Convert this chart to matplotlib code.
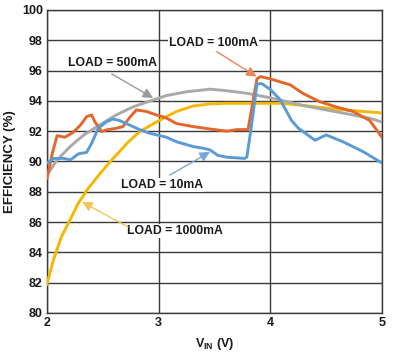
import matplotlib
matplotlib.use("Agg")
import matplotlib.pyplot as plt

# Efficiency vs input voltage
vin_10ma = [2.0, 2.06, 2.15, 2.21, 2.28, 2.355, 2.40, 2.46, 2.53, 2.59, 2.65, 2.74, 2.83, 2.92,
            3.07, 3.16, 3.31, 3.40, 3.46, 3.53, 3.61, 3.77, 3.79, 3.83, 3.88, 3.92, 4.0, 4.09,
            4.19, 4.25, 4.40, 4.50, 4.65, 4.83, 5.0]
eff_10ma = [89.9, 90.2, 90.2, 90.1, 90.5, 90.6, 91.2, 92.2, 92.6, 92.8, 92.7, 92.4, 92.1, 91.86,
            91.6, 91.3, 90.98, 90.87, 90.76, 90.4, 90.28, 90.2, 90.3, 92.3, 95.1, 95.15, 94.75, 94.06,
            92.7, 92.2, 91.4, 91.75, 91.3, 90.65, 89.9]

vin_100ma = [2.0, 2.05, 2.09, 2.16, 2.23, 2.30, 2.355, 2.40, 2.43, 2.49, 2.53, 2.62, 2.68, 2.74,
             2.80, 2.89, 2.98, 3.06, 3.16, 3.31, 3.46, 3.61, 3.70, 3.80, 3.88, 3.91, 4.0, 4.18,
             4.29, 4.44, 4.59, 4.74, 4.89, 5.0]
eff_100ma = [88.9, 90.6, 91.7, 91.6, 91.9, 92.4, 92.96, 93.07, 92.6, 91.97, 92.08, 92.19, 92.3, 92.9,
             93.4, 93.3, 93.07, 92.9, 92.5, 92.3, 92.14, 92.0, 92.1, 92.1, 95.45, 95.6, 95.45, 95.05,
             94.5, 93.95, 93.6, 93.3, 92.7, 91.6]

vin_500ma = [2.0, 2.09, 2.21, 2.33, 2.47, 2.62, 2.77, 2.95, 3.07, 3.25, 3.46, 3.61, 3.79, 4.0,
             4.15, 4.29, 4.5, 4.74, 4.89, 5.0]
eff_500ma = [89.1, 90.1, 91.0, 91.75, 92.4, 93.07, 93.6, 94.06, 94.35, 94.6, 94.77, 94.67, 94.5, 94.2,
             93.95, 93.7, 93.4, 93.07, 92.85, 92.6]

vin_1000ma = [2.0, 2.057, 2.13, 2.206, 2.28, 2.37, 2.475, 2.58, 2.73, 2.83, 2.98, 3.08, 3.16, 3.31,
              3.46, 3.61, 3.91, 4.11, 4.29, 4.59, 5.0]
eff_1000ma = [81.9, 83.5, 85.04, 86.14, 87.24, 88.23, 89.2, 90.1, 91.3, 91.97, 92.6, 93.0, 93.3, 93.66,
              93.8, 93.84, 93.84, 93.84, 93.7, 93.45, 93.2]

x_ticks = [2, 3, 4, 5]
y_ticks = list(range(80, 101, 2))

C_BLUE = '#5b9bd5'
C_ORANGE = '#e2672c'
C_GRAY = '#a9a9a9'
C_YELLOW = '#f5b800'

plt.rcParams['font.family'] = ['Liberation Sans', 'DejaVu Sans']

fig = plt.figure(figsize=(4.0, 3.56), dpi=100)
ax = fig.add_axes([0.1175, 0.121, 0.8375, 0.851])

lw = 2.1
ax.plot(vin_1000ma, eff_1000ma, color=C_YELLOW, lw=lw, zorder=3)
ax.plot(vin_500ma, eff_500ma, color=C_GRAY, lw=lw, zorder=3)
ax.plot(vin_100ma, eff_100ma, color=C_ORANGE, lw=lw, zorder=3)
ax.plot(vin_10ma, eff_10ma, color=C_BLUE, lw=lw, zorder=3)

ax.set_xlim(2, 5)
ax.set_ylim(80, 100)
ax.set_xticks(x_ticks)
ax.set_yticks(y_ticks)
ax.tick_params(length=0, pad=3, labelsize=9, colors='#1a1a1a')
for lab in ax.get_xticklabels() + ax.get_yticklabels():
    lab.set_fontweight('bold')
ax.grid(True, color='#3a3a3a', lw=1.0)
ax.set_axisbelow(True)
for sp in ax.spines.values():
    sp.set_color('#3a3a3a')
    sp.set_linewidth(1.0)

ax.set_ylabel('EFFICIENCY (%)', fontsize=9.5, fontweight='bold', color='#1a1a1a', labelpad=4)
ax.set_xlabel(r'V$_{\mathregular{IN}}$ (V)', fontsize=9, fontweight='bold', color='#1a1a1a',
              labelpad=5)

# labels with arrows
box = dict(facecolor='white', edgecolor='none', pad=1)
labels = [
    ('LOAD = 500mA', (2.586, 96.5), (2.58, 95.78), (2.95, 94.19), '#999999'),
    ('LOAD = 100mA', (3.49, 97.82), (3.52, 97.25), (3.877, 95.6), '#e8875a'),
    ('LOAD = 10mA', (3.03, 88.45), (3.10, 89.1), (3.46, 90.63), '#7aa6d6'),
    ('LOAD = 1000mA', (3.146, 85.41), (2.725, 85.68), (2.313, 87.33), '#f2c85a'),
]
for txt, pos, start, tip, col in labels:
    ax.text(pos[0], pos[1], txt, ha='center', va='center', fontsize=8.8, fontweight='bold',
            color='#1a1a1a', bbox=box, zorder=5)
    ax.annotate('', xy=tip, xytext=start,
                arrowprops=dict(arrowstyle='-|>,head_length=0.6,head_width=0.3',
                                color=col, lw=1.0, shrinkA=0, shrinkB=0), zorder=6)

fig.savefig('out.png', dpi=100)
